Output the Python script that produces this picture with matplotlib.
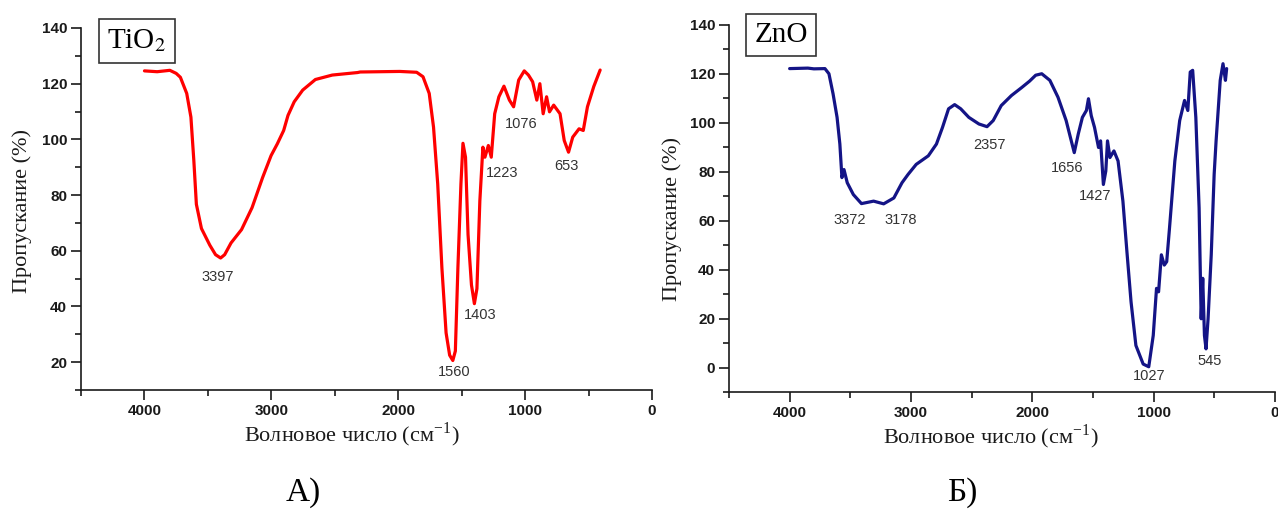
import matplotlib
matplotlib.use("Agg")
import matplotlib.pyplot as plt
from matplotlib.ticker import MultipleLocator

# ==========================================================
# Data
# ==========================================================

tio2_wn = [4000, 3900, 3800, 3750, 3717, 3667, 3634, 3611, 3591, 3551, 3485,
           3440, 3400, 3368, 3318, 3235, 3152, 3069, 3002, 2953, 2903, 2869,
           2820, 2753, 2653, 2520, 2321, 2300, 1988, 1855, 1805, 1756, 1722,
           1689, 1656, 1623, 1595, 1570, 1550, 1530, 1506, 1490, 1470, 1450,
           1423, 1400, 1380, 1357, 1333, 1317, 1290, 1267, 1240, 1207, 1167,
           1124, 1091, 1051, 1007, 974, 941, 908, 884, 858, 831, 808, 775,
           725, 692, 658, 625, 575, 542, 509, 459, 409]
tio2_tr = [124.6, 124.3, 124.8, 123.7, 122.3, 116.5, 108.0, 92.4, 76.7, 68.0,
           62.0, 58.6, 57.4, 58.6, 62.8, 67.6, 75.5, 86.3, 94.2, 98.4, 103.2,
           108.6, 113.5, 117.7, 121.5, 123.1, 124.0, 124.2, 124.4, 124.1,
           122.5, 116.5, 104.4, 84.0, 53.8, 30.5, 22.5, 20.6, 24.0, 53.8, 84.0,
           98.6, 93.6, 65.8, 47.7, 41.0, 46.4, 77.9, 97.2, 93.6, 97.8, 93.6,
           109.2, 115.3, 119.1, 114.1, 111.7, 121.3, 124.6, 123.1, 120.7,
           114.1, 120.0, 109.2, 115.3, 109.9, 112.3, 109.2, 99.6, 95.4, 100.8,
           103.8, 103.2, 111.7, 119.0, 124.9]

zno_wn = [4000, 3850, 3800, 3709, 3676, 3642, 3609, 3586, 3569, 3552, 3525,
          3475, 3408, 3308, 3225, 3141, 3074, 3024, 2957, 2857, 2790, 2740,
          2690, 2640, 2590, 2523, 2440, 2373, 2322, 2256, 2172, 2089, 2022,
          1972, 1922, 1855, 1788, 1721, 1654, 1621, 1587, 1554, 1537, 1514,
          1487, 1454, 1437, 1414, 1394, 1380, 1360, 1327, 1293, 1253, 1220,
          1186, 1146, 1086, 1040, 1003, 976, 959, 936, 912, 892, 869, 825,
          785, 745, 718, 698, 678, 652, 625, 608, 595, 581, 568, 551, 525,
          501, 485, 451, 428, 408, 398]
zno_tr = [122.2, 122.4, 122.1, 122.2, 120.1, 111.9, 102.3, 91.4, 77.7, 81.0,
          75.6, 70.8, 67.1, 68.1, 67.0, 69.4, 75.6, 79.0, 83.1, 86.6, 91.4,
          98.2, 105.8, 107.5, 105.8, 102.3, 99.6, 98.5, 101.0, 107.1, 111.2,
          114.4, 117.1, 119.5, 120.1, 117.4, 110.5, 101.0, 87.9, 95.5, 102.3,
          105.1, 109.9, 103.0, 98.2, 90.0, 92.7, 74.9, 80.4, 92.7, 85.9, 88.6,
          84.5, 68.1, 47.5, 27.0, 9.2, 1.6, 0.5, 13.3, 32.5, 31.1, 46.2, 42.0,
          43.4, 57.1, 84.5, 101.0, 109.2, 105.1, 120.8, 121.5, 102.3, 65.3,
          20.1, 36.6, 13.3, 7.8, 20.1, 46.2, 79.0, 92.7, 117.4, 124.2, 117.4,
          122.2]

# peak labels: text, x, y
tio2_peaks = ["3397", "1560", "1403", "1223", "1076", "653"]
tio2_peak_x = [3424, 1563, 1357, 1185, 1032, 678]
tio2_peak_y = [50.5, 16.5, 37.0, 88.0, 105.4, 90.4]

zno_peaks = ["3372", "3178", "2357", "1656", "1427", "1027", "545"]
zno_peak_x = [3502, 3088, 2356, 1711, 1480, 1038, 536]
zno_peak_y = [60.3, 60.3, 91.1, 81.8, 70.4, -3.1, 3.0]

# ==========================================================
# Style
# ==========================================================

plt.rcParams["mathtext.fontset"] = "stix"
serif = "Liberation Serif"
sans = "Liberation Sans"
dark = "#1a1a1a"

fig = plt.figure(figsize=(12.78, 5.09), dpi=100)

ax1 = fig.add_axes([0.0634, 0.2338, 0.4468, 0.7112])
ax2 = fig.add_axes([0.5704, 0.2289, 0.4272, 0.7220])


def style_axis(ax, ylim):
    ax.set_xlim(4500, 0)
    ax.set_ylim(*ylim)
    for s in ["top", "right"]:
        ax.spines[s].set_visible(False)
    for s in ["left", "bottom"]:
        ax.spines[s].set_color(dark)
        ax.spines[s].set_linewidth(1.2)
    ax.xaxis.set_major_locator(MultipleLocator(1000))
    ax.xaxis.set_minor_locator(MultipleLocator(500))
    ax.yaxis.set_major_locator(MultipleLocator(20))
    ax.yaxis.set_minor_locator(MultipleLocator(10))
    ax.tick_params(which="major", length=7, width=1.2, color=dark, direction="out")
    ax.tick_params(which="minor", length=4, width=1.2, color=dark, direction="out")
    ax.tick_params(labelsize=11, labelcolor=dark, pad=3)
    for lab in ax.get_xticklabels() + ax.get_yticklabels():
        lab.set_fontweight("bold")
        lab.set_fontfamily(sans)


# ==========================================================
# TiO2
# ==========================================================

ax1.plot(tio2_wn, tio2_tr, color="#ff0000", lw=2.3,
         solid_joinstyle="round", solid_capstyle="round")
style_axis(ax1, (10, 140))
for t, x, y in zip(tio2_peaks, tio2_peak_x, tio2_peak_y):
    ax1.text(x, y, t, ha="center", va="center", fontsize=10.5,
             family=sans, color="#333333")

# ==========================================================
# ZnO
# ==========================================================

ax2.plot(zno_wn, zno_tr, color="#141486", lw=2.3,
         solid_joinstyle="round", solid_capstyle="round")
style_axis(ax2, (-10, 140))
for t, x, y in zip(zno_peaks, zno_peak_x, zno_peak_y):
    ax2.text(x, y, t, ha="center", va="center", fontsize=10.5,
             family=sans, color="#333333")

# ==========================================================
# Labels and boxes (figure coordinates)
# ==========================================================

W, H = 1278.0, 509.0
box = dict(boxstyle="square,pad=0.28", fc="white", ec="#333333", lw=1.2)

fig.text(137 / W, 1 - 41 / H, r"TiO$_2$", ha="center", va="center",
         fontsize=21, family=serif, bbox=box)
fig.text(781 / W, 1 - 35 / H, "ZnO", ha="center", va="center",
         fontsize=21, family=serif, bbox=box)

ylab = "Пропускание (%)"
fig.text(22 / W, 1 - 211 / H, ylab, rotation=90, ha="center", va="center",
         fontsize=16, family=serif, color=dark)
fig.text(672 / W, 1 - 219 / H, ylab, rotation=90, ha="center", va="center",
         fontsize=16, family=serif, color=dark)

xlab = r"Волновое число (см$^{\mathregular{-1}}$)"
fig.text(352 / W, 1 - 435 / H, xlab, ha="center", va="center",
         fontsize=16, family=serif, color=dark)
fig.text(991 / W, 1 - 437 / H, xlab, ha="center", va="center",
         fontsize=16, family=serif, color=dark)

fig.text(303 / W, 1 - 493 / H, "А)", ha="center", va="center",
         fontsize=24, family=serif, color="black")
fig.text(962 / W, 1 - 493 / H, "Б)", ha="center", va="center",
         fontsize=24, family=serif, color="black")

plt.savefig("out.png", dpi=100)
